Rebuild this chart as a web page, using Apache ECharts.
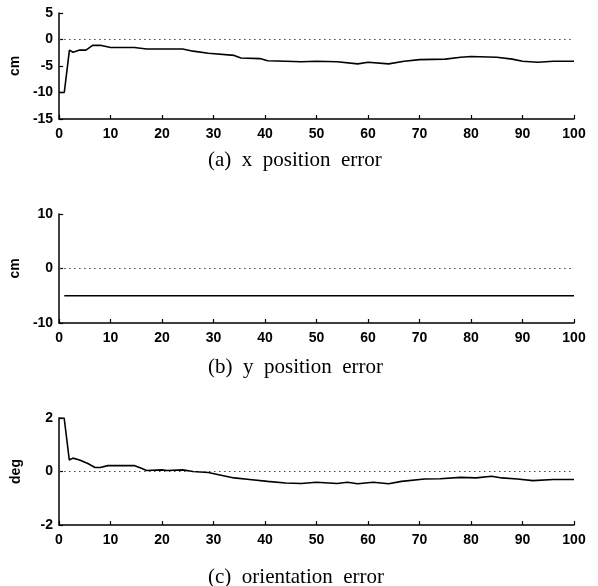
<!DOCTYPE html>
<html>
<head>
<meta charset="utf-8">
<script src="https://cdn.jsdelivr.net/npm/echarts@6/dist/echarts.min.js"></script>
<style>
    html, body { margin: 0; padding: 0; background: #fff; }
    #main { width: 598px; height: 586px; }
</style>
</head>
<body>
<div id="main"></div>
<script>
// (a) x position error
var xTime = [0, 1, 2, 2.7, 4, 5.2, 6.5, 8, 10, 14.6, 17, 24, 26, 29, 34, 35.3, 39, 40.5, 44, 47,
    50, 54, 58, 60, 64, 67, 70, 75, 78, 80, 85, 88, 90, 93, 96, 100];
var xErr = [-10, -10, -2, -2.4, -2, -2, -1.1, -1.1, -1.5, -1.5, -1.8, -1.8, -2.2, -2.6, -3.0, -3.5, -3.6, -4.0, -4.1, -4.2,
    -4.1, -4.2, -4.6, -4.3, -4.6, -4.1, -3.8, -3.7, -3.35, -3.2, -3.35, -3.7, -4.1, -4.3, -4.1, -4.1];

// (b) y position error
var yTime = [1, 10, 20, 30, 40, 50, 60, 70, 80, 90, 100];
var yErr = [-5, -5, -5, -5, -5, -5, -5, -5, -5, -5, -5];

// (c) orientation error
var oTime = [0, 1, 2, 2.7, 4, 5.6, 7, 8, 9.5, 14.6, 16, 17, 20, 21, 24, 26, 29, 31, 34, 37, 40.5, 44, 47,
    50, 54, 56, 58, 61, 64, 66.5, 71, 74, 78, 81, 84, 86, 89, 92, 96, 100];
var oErr = [2, 2, 0.43, 0.5, 0.43, 0.3, 0.15, 0.15, 0.22, 0.22, 0.12, 0.04, 0.06, 0.04, 0.06, 0, -0.04, -0.12, -0.24, -0.3, -0.37, -0.43, -0.45,
    -0.4, -0.45, -0.4, -0.46, -0.4, -0.46, -0.37, -0.28, -0.27, -0.22, -0.24, -0.18, -0.24, -0.28, -0.34, -0.3, -0.3];

var xTicks = [0, 100, 10];
var captions = ['(a)  x  position  error', '(b)  y  position  error', '(c)  orientation  error'];
var yNames = ['cm', 'cm', 'deg'];
var yRanges = [[-15, 5, 5], [-10, 10, 10], [-2, 2, 2]];

var grids = [
    {left: 59, right: 24, top: 13, height: 106},
    {left: 59, right: 24, top: 214, height: 109},
    {left: 59, right: 24, top: 418, height: 107}
];
var captionTops = [145, 352, 562];

function pairs(xs, ys) {
    var out = [];
    for (var i = 0; i < xs.length; ++i) {
        out.push([xs[i], ys[i]]);
    }
    return out;
}

var labelFont = {
    color: '#000',
    fontFamily: 'Liberation Sans, Arial, sans-serif',
    fontWeight: 'bold',
    fontSize: 14
};

var chart = echarts.init(document.getElementById('main'));
var allData = [pairs(xTime, xErr), pairs(yTime, yErr), pairs(oTime, oErr)];

var option = {
    backgroundColor: '#fff',
    animation: false,
    grid: grids,
    title: captions.map(function (c, i) {
        return {
            text: c,
            left: 203,
            top: captionTops[i],
            textStyle: {
                fontFamily: 'Liberation Serif, Times New Roman, serif',
                fontWeight: 'normal',
                fontSize: 21,
                color: '#000'
            }
        };
    }),
    xAxis: grids.map(function (g, i) {
        return {
            type: 'value',
            gridIndex: i,
            min: xTicks[0],
            max: xTicks[1],
            interval: xTicks[2],
            axisLine: {onZero: false, lineStyle: {color: '#000', width: 1.5}},
            axisTick: {inside: true, length: 4, lineStyle: {color: '#000', width: 1.2}},
            axisLabel: Object.assign({margin: 8}, labelFont),
            splitLine: {show: false}
        };
    }),
    yAxis: grids.map(function (g, i) {
        return {
            type: 'value',
            gridIndex: i,
            min: yRanges[i][0],
            max: yRanges[i][1],
            interval: yRanges[i][2],
            name: yNames[i],
            nameLocation: 'middle',
            nameRotate: 90,
            nameGap: 36,
            nameTextStyle: labelFont,
            axisLine: {onZero: false, lineStyle: {color: '#000', width: 1.5}},
            axisTick: {inside: true, length: 4, lineStyle: {color: '#000', width: 1.2}},
            axisLabel: Object.assign({margin: 6}, labelFont),
            splitLine: {show: false}
        };
    }),
    series: allData.map(function (d, i) {
        return {
            type: 'line',
            xAxisIndex: i,
            yAxisIndex: i,
            data: d,
            symbol: 'none',
            lineStyle: {color: '#000', width: 1.6},
            markLine: {
                silent: true,
                symbol: ['none', 'none'],
                label: {show: false},
                lineStyle: {color: '#444', type: [1.5, 3.5], width: 1},
                emphasis: {disabled: true},
                data: [{yAxis: 0}]
            }
        };
    })
};

chart.setOption(option);
</script>
</body>
</html>
